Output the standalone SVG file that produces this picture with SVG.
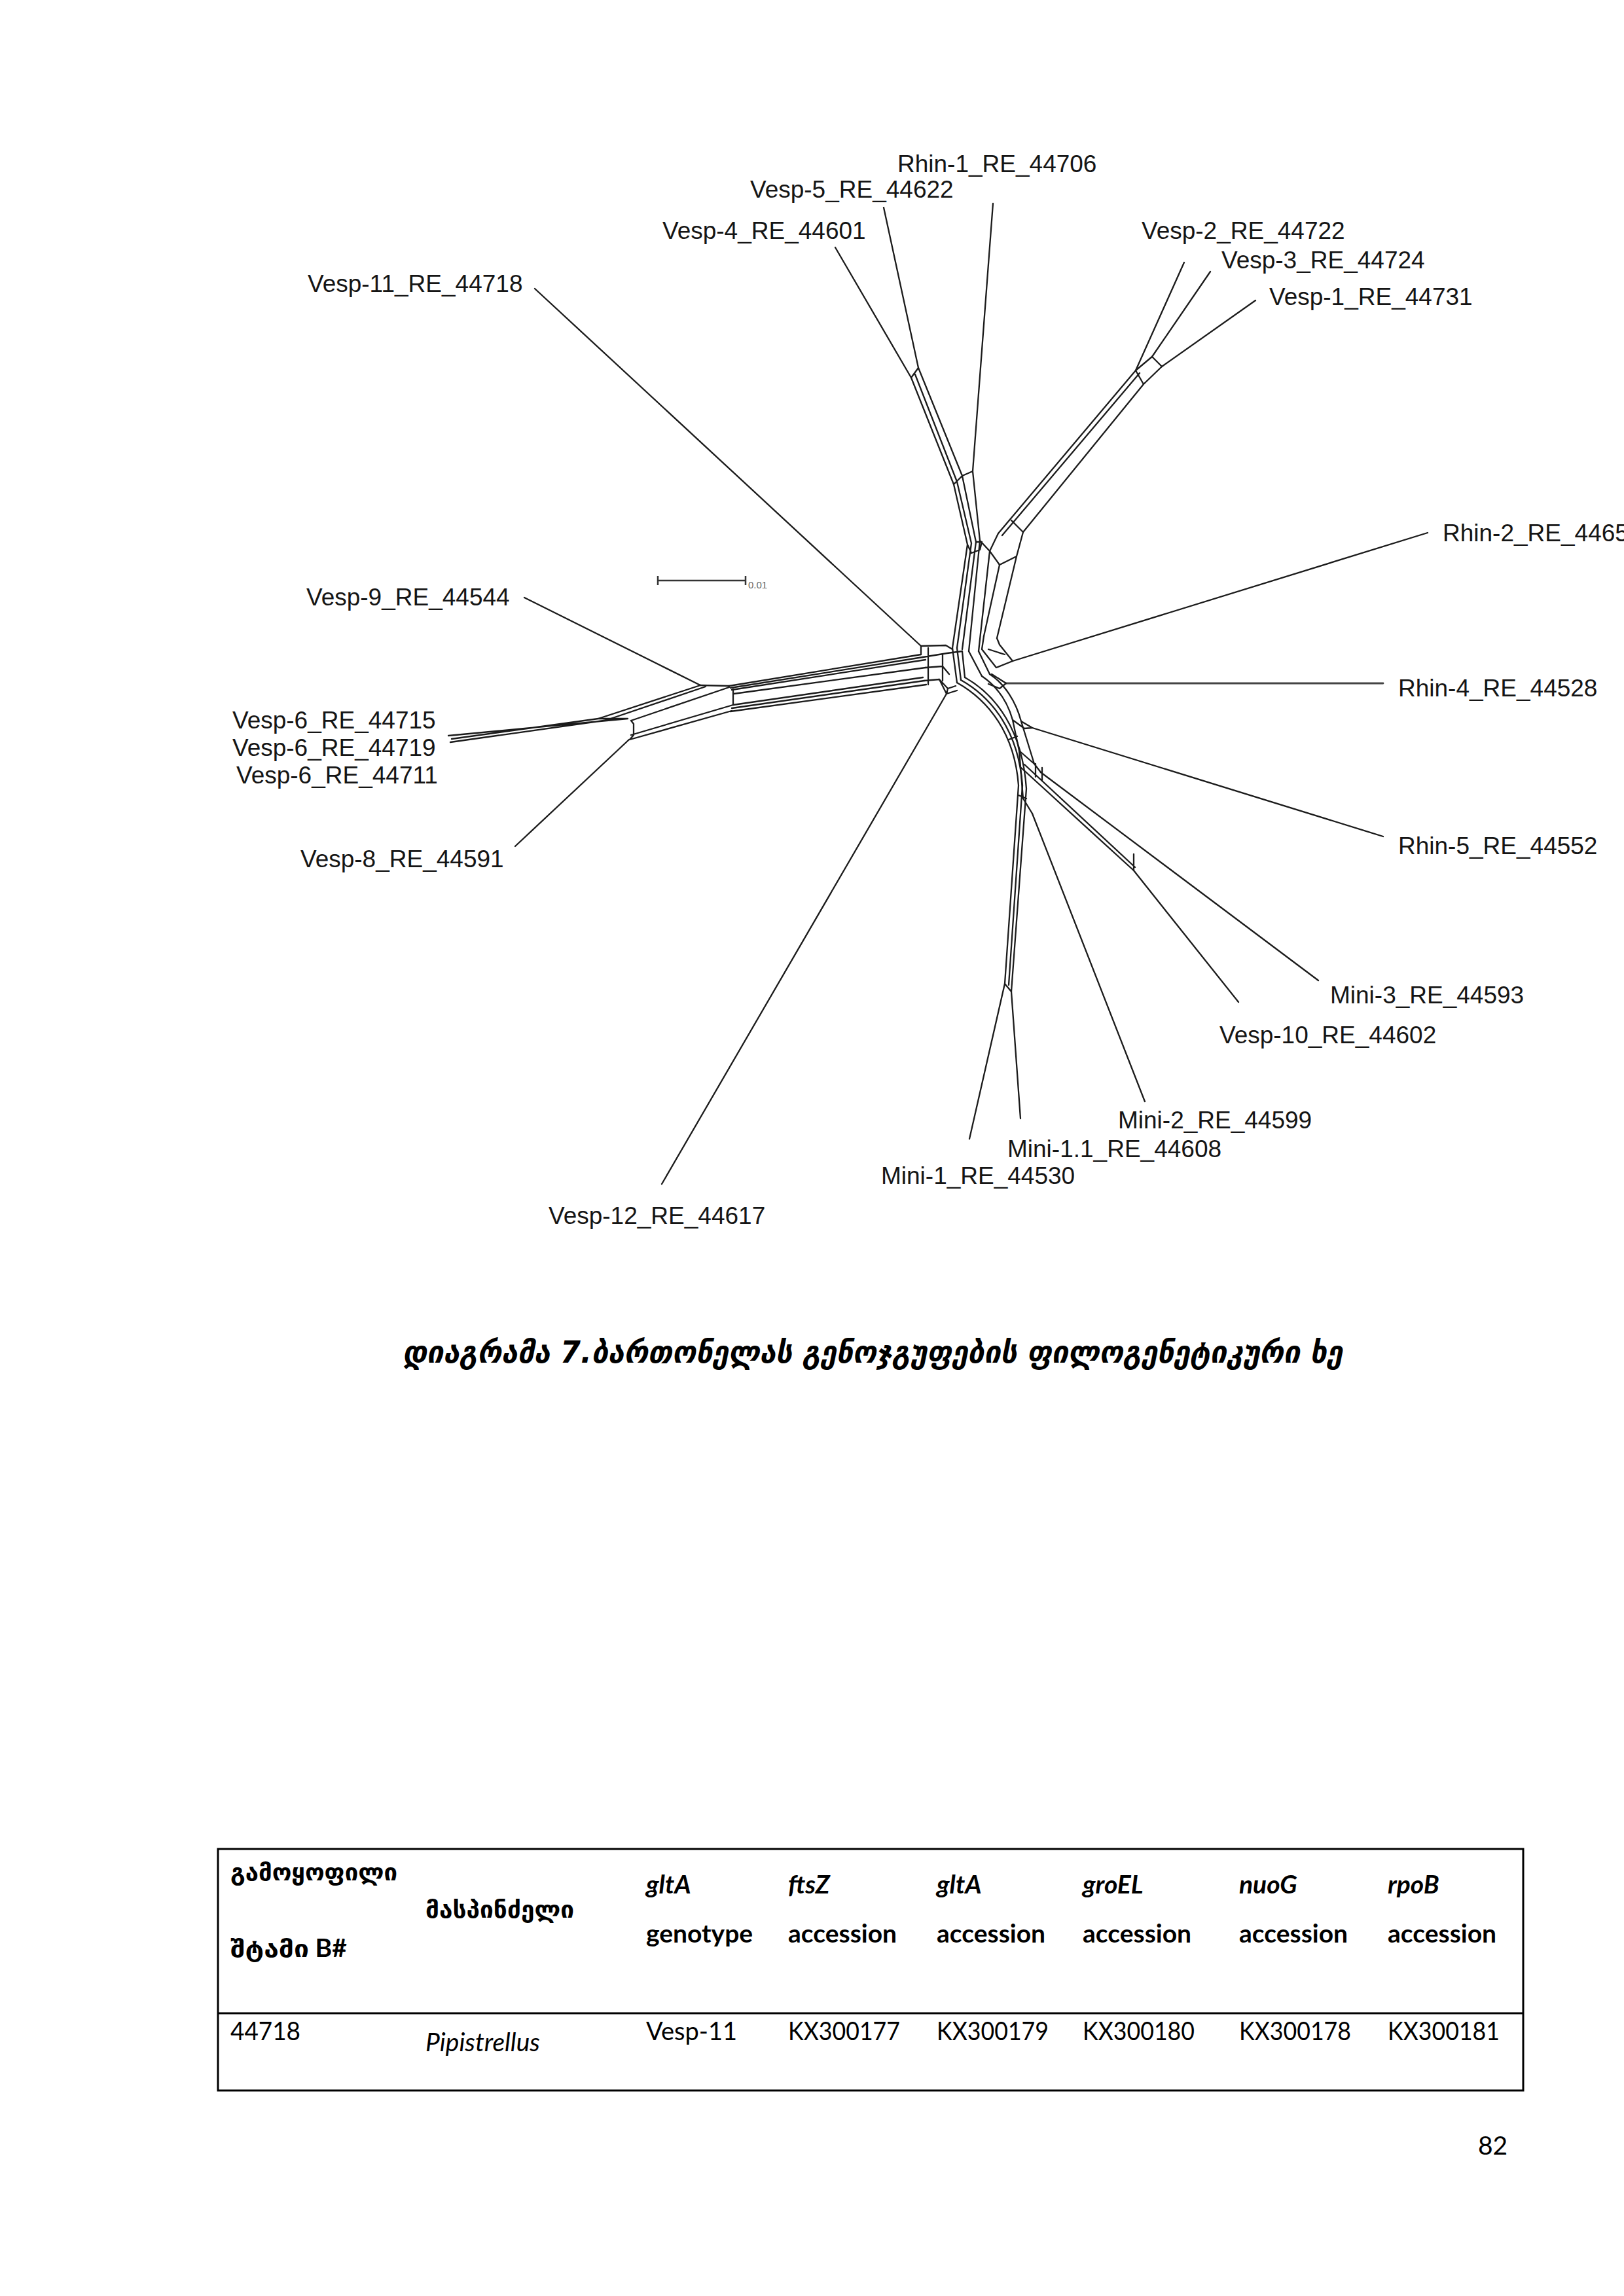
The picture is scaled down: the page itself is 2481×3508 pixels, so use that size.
<svg xmlns="http://www.w3.org/2000/svg" width="2481" height="3508" viewBox="0 0 2481 3508">
<style>
.e{fill:none;stroke:#1b1b1b;stroke-width:2.3;stroke-linejoin:round;stroke-linecap:round}
.lb{font-family:"Liberation Sans",Arial,sans-serif;font-size:37px;fill:#151515}
.cap{font-family:"DejaVu Sans",sans-serif;font-style:italic;font-weight:bold;font-size:46px;fill:#000}
.t{font-family:Lato,"DejaVu Sans",sans-serif;font-size:39px;fill:#000}
.tb{font-weight:bold}
.ti{font-style:italic}
.geo{font-family:"DejaVu Sans",sans-serif;font-weight:bold;font-size:36px;fill:#000}
</style>
<rect width="2481" height="3508" fill="#fff"/>
<g id="connectors" class="e">
<path d="M817,441 L1407,987"/>
<path d="M801,913 L1070,1047"/>
<path d="M787,1293 L961,1130"/>
<path d="M959,1098 L685,1124 M914,1098 L690,1129 M936,1099 L688,1134 M914,1098 L959,1098"/>
<path d="M1276,378 L1392,577"/>
<path d="M1350,317 L1403,562"/>
<path d="M1517,311 L1486,720"/>
<path d="M1809,401 L1735,566"/>
<path d="M1849,415 L1760,545"/>
<path d="M1918,459 L1775,560"/>
<path d="M2181,814 L1547,1010"/>
<path d="M1537,1044 L2113,1044" stroke="#444" stroke-width="2.8"/>
<path d="M1577,1112 L2113,1278"/>
<path d="M1590,1180 L2014,1498"/>
<path d="M1732,1330 L1892,1531"/>
<path d="M1577,1243 L1749,1683"/>
<path d="M1545,1515 L1559,1709"/>
<path d="M1535,1503 L1481,1740"/>
<path d="M1446,1060 L1011,1809"/>
<path d="M1070,1047 L1114,1048 M1070,1047 L914,1098 M1078,1049 L930,1099 M1114,1050 L964,1101 M1120,1077 L964,1123 M1118,1086 L962,1130 M1120,1053 L1120,1077 M964,1101 L968,1106 L968,1123 L962,1130"/>
<path d="M1114,1048 L1407,1000 M1116,1051 L1410,1004 M1118,1054 L1414,1008 M1121,1060 L1414,1020 M1120,1077 L1410,1035 M1118,1082 L1412,1040 M1116,1087 L1415,1046"/>
<path d="M1407,987 L1407,1000 M1407,987 L1445,986 L1455,992 M1410,1004 L1447,998 L1470,995 M1414,1020 L1440,1018 L1450,1030 M1412,1040 L1435,1038 L1448,1052 L1460,1048 M1418,990 L1418,1046 M1440,1000 L1440,1040 M1448,1052 L1446,1060 M1435,1038 L1446,1060 L1462,1055"/>
<path d="M1503,972 L1500,992 L1522,1020 L1547,1010 L1527,985 L1523,975 M1510,992 L1535,1000 M1515,1030 L1537,1044 L1527,1052 L1510,1045"/>
<path d="M1470,995 L1474,1035 M1480,995 L1500,1033 M1495,995 L1512,1030 M1455,990 L1462,1043 M1462,990 L1468,1039"/>
<path d="M1462,1043 C1510,1070 1550,1120 1556,1200 L1535,1503 M1468,1039 C1516,1066 1556,1118 1562,1200 L1541,1505 M1474,1035 C1522,1062 1562,1116 1568,1205 L1545,1515 M1535,1503 L1545,1515 M1556,1215 L1568,1220 M1541,1130 L1554,1125"/>
<path d="M1500,1033 C1525,1050 1540,1075 1547,1100 L1557,1147 L1563,1220 L1577,1243 M1512,1030 C1535,1045 1552,1072 1560,1102 L1580,1167 L1590,1180 M1547,1100 L1565,1113 L1577,1112 M1560,1102 L1577,1112 M1557,1147 L1580,1167 M1560,1173 L1732,1330 M1565,1168 L1734,1325 M1732,1305 L1732,1330 M1582,1167 L1582,1187 M1592,1173 L1592,1193"/>
<path d="M1392,577 L1403,562 M1392,577 L1457,740 L1478,832 L1455,990 M1398,572 L1462,736 L1484,830 L1462,990 M1403,562 L1470,727 L1491,828 L1470,992 M1486,720 L1497,826 L1480,995 M1457,740 L1470,727 L1486,720 M1478,832 L1484,845 L1497,840 L1500,828 L1491,828"/>
<path d="M1497,826 L1512,842 L1527,863 L1553,850 L1563,813 M1512,842 L1495,995 M1527,863 L1503,972 M1553,850 L1523,975"/>
<path d="M1735,566 L1525,815 L1512,842 M1741,570 L1531,818 M1747,587 L1563,813 M1735,566 L1747,587 M1760,545 L1775,560 M1735,566 L1760,545 M1747,587 L1775,560 M1545,795 L1563,813"/>
</g>
<g id="scalebar"><path d="M1005,887 H1139 M1005,880 V894 M1139,880 V894" fill="none" stroke="#333" stroke-width="2.5"/><text x="1143" y="899" font-family="Liberation Sans,sans-serif" font-size="15" fill="#666">0.01</text></g>
<g id="n-rhin1"><text class="lb" x="1371" y="263">Rhin-1_RE_44706</text></g>
<g id="n-vesp5"><text class="lb" x="1146" y="302">Vesp-5_RE_44622</text></g>
<g id="n-vesp4"><text class="lb" x="1012" y="365">Vesp-4_RE_44601</text></g>
<g id="n-vesp11"><text class="lb" x="470" y="446">Vesp-11_RE_44718</text></g>
<g id="n-vesp2"><text class="lb" x="1744" y="365">Vesp-2_RE_44722</text></g>
<g id="n-vesp3"><text class="lb" x="1866" y="410">Vesp-3_RE_44724</text></g>
<g id="n-vesp1"><text class="lb" x="1939" y="466">Vesp-1_RE_44731</text></g>
<g id="n-rhin2"><text class="lb" x="2204" y="827">Rhin-2_RE_4465</text></g>
<g id="n-rhin4"><text class="lb" x="2136" y="1064">Rhin-4_RE_44528</text></g>
<g id="n-rhin5"><text class="lb" x="2136" y="1305">Rhin-5_RE_44552</text></g>
<g id="n-mini3"><text class="lb" x="2032" y="1533">Mini-3_RE_44593</text></g>
<g id="n-vesp10"><text class="lb" x="1863" y="1594">Vesp-10_RE_44602</text></g>
<g id="n-mini2"><text class="lb" x="1708" y="1724">Mini-2_RE_44599</text></g>
<g id="n-mini11"><text class="lb" x="1539" y="1768">Mini-1.1_RE_44608</text></g>
<g id="n-mini1"><text class="lb" x="1346" y="1809">Mini-1_RE_44530</text></g>
<g id="n-vesp12"><text class="lb" x="838" y="1870">Vesp-12_RE_44617</text></g>
<g id="n-vesp9"><text class="lb" x="468" y="925">Vesp-9_RE_44544</text></g>
<g id="n-vesp6a"><text class="lb" x="355" y="1113">Vesp-6_RE_44715</text></g>
<g id="n-vesp6b"><text class="lb" x="355" y="1155">Vesp-6_RE_44719</text></g>
<g id="n-vesp6c"><text class="lb" x="361" y="1197">Vesp-6_RE_44711</text></g>
<g id="n-vesp8"><text class="lb" x="459" y="1325">Vesp-8_RE_44591</text></g>
<g id="caption"><text class="cap" x="615" y="2082" textLength="1436" lengthAdjust="spacingAndGlyphs">დიაგრამა 7.ბართონელას გენოჯგუფების ფილოგენეტიკური ხე</text></g>
<g id="table">
<rect x="333" y="2825" width="1994" height="369" fill="none" stroke="#000" stroke-width="3"/>
<line x1="333" y1="3076" x2="2327" y2="3076" stroke="#000" stroke-width="3"/>
<text class="geo" x="352" y="2873" textLength="255" lengthAdjust="spacingAndGlyphs">გამოყოფილი</text>
<text class="geo" x="352" y="2990"><tspan textLength="120" lengthAdjust="spacingAndGlyphs">შტამი</tspan><tspan font-family="Lato,sans-serif" font-size="39"> B#</tspan></text>
<text class="geo" x="650" y="2930" textLength="227" lengthAdjust="spacingAndGlyphs">მასპინძელი</text>
<text class="t tb ti" x="987" y="2893">gltA</text>
<text class="t tb ti" x="1204" y="2893">ftsZ</text>
<text class="t tb ti" x="1431" y="2893">gltA</text>
<text class="t tb ti" x="1654" y="2893">groEL</text>
<text class="t tb ti" x="1893" y="2893">nuoG</text>
<text class="t tb ti" x="2120" y="2893">rpoB</text>
<text class="t tb" x="987" y="2968">genotype</text>
<text class="t tb" x="1204" y="2968">accession</text>
<text class="t tb" x="1431" y="2968">accession</text>
<text class="t tb" x="1654" y="2968">accession</text>
<text class="t tb" x="1893" y="2968">accession</text>
<text class="t tb" x="2120" y="2968">accession</text>
<text class="t" x="352" y="3117" textLength="107" lengthAdjust="spacingAndGlyphs">44718</text>
<text class="t ti" x="650" y="3134" font-size="41">Pipistrellus</text>
<text class="t" x="987" y="3117" textLength="139" lengthAdjust="spacingAndGlyphs">Vesp-11</text>
<text class="t" x="1204" y="3117" textLength="171" lengthAdjust="spacingAndGlyphs">KX300177</text>
<text class="t" x="1431" y="3117" textLength="171" lengthAdjust="spacingAndGlyphs">KX300179</text>
<text class="t" x="1654" y="3117" textLength="171" lengthAdjust="spacingAndGlyphs">KX300180</text>
<text class="t" x="1893" y="3117" textLength="171" lengthAdjust="spacingAndGlyphs">KX300178</text>
<text class="t" x="2120" y="3117" textLength="171" lengthAdjust="spacingAndGlyphs">KX300181</text>
</g>
<g id="page"><text class="t" x="2258" y="3292" font-size="42">82</text></g>
</svg>
